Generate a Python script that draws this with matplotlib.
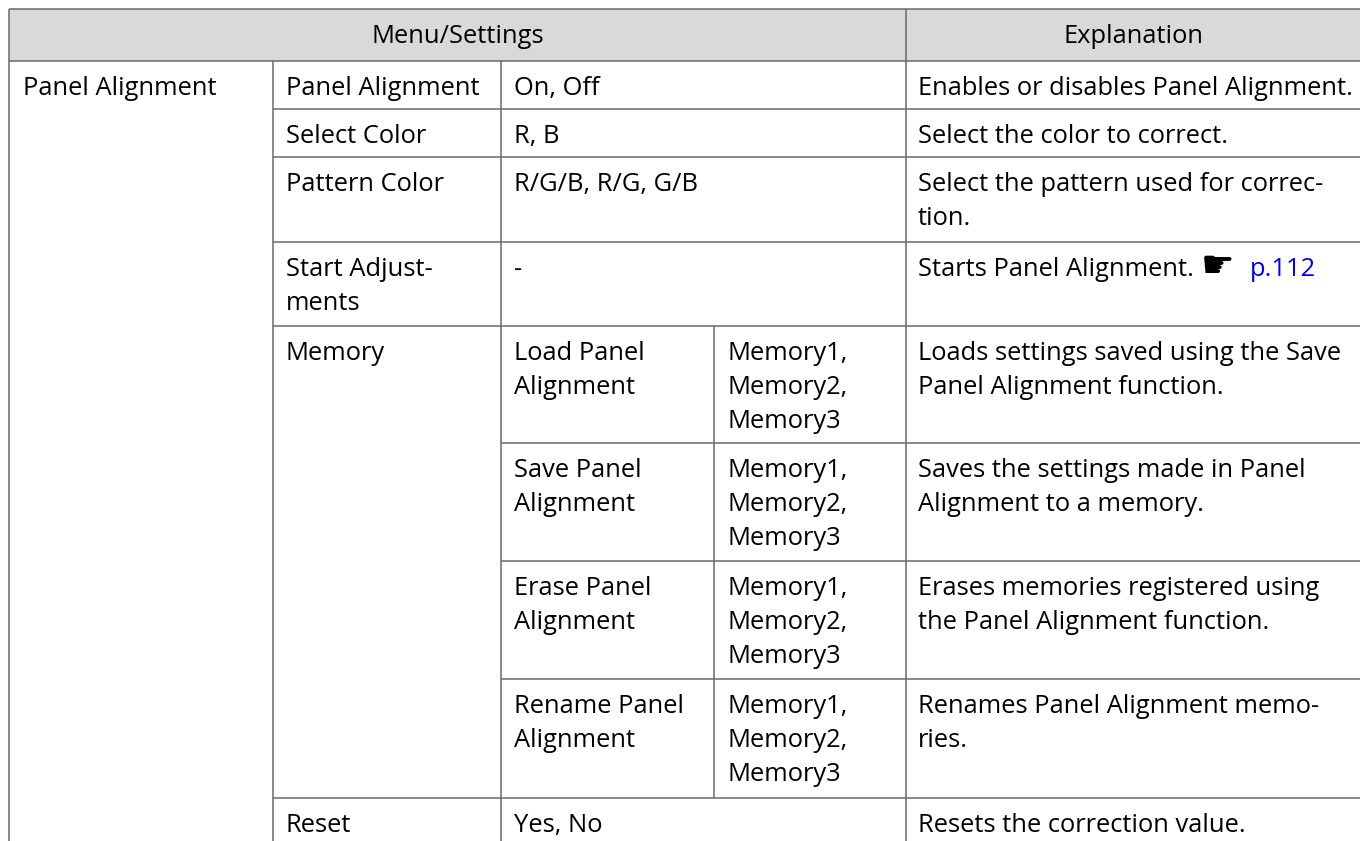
import matplotlib
matplotlib.use("Agg")
import matplotlib.pyplot as plt

# ---------------- data ----------------
header_left = "Menu/Settings"
header_right = "Explanation"
group_name = "Panel Alignment"
items = ["Panel Alignment", "Select Color", "Pattern Color", "Start Adjust-\nments", "Memory", "Reset"]
item_values = ["On, Off", "R, B", "R/G/B, R/G, G/B", "-", None, "Yes, No"]
item_expl = [
    "Enables or disables Panel Alignment.",
    "Select the color to correct.",
    "Select the pattern used for correc-\ntion.",
    "Starts Panel Alignment.",
    None,
    "Resets the correction value.",
]
memory_items = ["Load Panel\nAlignment", "Save Panel\nAlignment", "Erase Panel\nAlignment", "Rename Panel\nAlignment"]
memory_values = ["Memory1,\nMemory2,\nMemory3"] * 4
memory_expl = [
    "Loads settings saved using the Save\nPanel Alignment function.",
    "Saves the settings made in Panel\nAlignment to a memory.",
    "Erases memories registered using\nthe Panel Alignment function.",
    "Renames Panel Alignment memo-\nries.",
]
link_icon = "\u261B"
link_text = "p.112"

# ---------------- layout ----------------
W, H = 1360, 841
X0, X1, X2, X3, X4, XR = 9, 273, 501, 714, 906, 1360
Y_TOP, Y_HEAD = 9, 61
item_heights = [48, 48, 85, 84, 472, 48]
mem_heights = [117, 118, 118, 119]
PAD = 13
BASE = 34
LSP = 34
FONT = "Open Sans"
FS = 18.4
LC = "#6a6a6a"
LW = 1.1

fig = plt.figure(figsize=(W / 100, H / 100), dpi=100)
ax = fig.add_axes([0, 0, 1, 1])
ax.set_xlim(0, W)
ax.set_ylim(H, 0)
ax.axis("off")

def hline(y, xa, xb):
    ax.plot([xa, xb], [y, y], color=LC, lw=LW, solid_capstyle="butt")

def vline(x, ya, yb):
    ax.plot([x, x], [ya, yb], color=LC, lw=LW, solid_capstyle="butt")

def cell_text(x, top, s, color="black"):
    out = None
    for i, line in enumerate(s.split("\n")):
        out = ax.text(x, top + BASE + i * LSP, line, fontsize=FS, family=FONT,
                      color=color, va="baseline", ha="left")
    return out

# header
ax.add_patch(plt.Rectangle((X0, Y_TOP), XR - X0, Y_HEAD - Y_TOP, facecolor="#d9d9d9", edgecolor="none"))
hline(Y_TOP, X0, XR)
hline(Y_HEAD, X0, XR)
ax.text((X0 + X4) / 2, (Y_TOP + Y_HEAD) / 2 + 1, header_left, fontsize=FS, family=FONT, ha="center", va="center")
ax.text((X4 + XR) / 2, (Y_TOP + Y_HEAD) / 2 + 1, header_right, fontsize=FS, family=FONT, ha="center", va="center")

# vertical borders
vline(X0, Y_TOP, H + 5)
vline(X1, Y_HEAD, H + 5)
vline(X2, Y_HEAD, H + 5)
vline(X4, Y_TOP, H + 5)

cell_text(X0 + PAD + 1, Y_HEAD, group_name)

y = Y_HEAD
for i, name in enumerate(items):
    top = y
    h = item_heights[i]
    cell_text(X1 + PAD, top, name)
    if item_values[i] is not None:
        cell_text(X2 + PAD, top, item_values[i])
        t = cell_text(X4 + PAD - 1, top, item_expl[i])
        if i == 3:
            fig.canvas.draw()
            bb = t.get_window_extent()
            xe = bb.x1
            ax.text(xe + 7, top + BASE + 1, link_icon, fontsize=27, family="DejaVu Sans", va="baseline", ha="left")
            ax.text(xe + 56, top + BASE, link_text, fontsize=FS, family=FONT, color="#0000ff", va="baseline", ha="left")
    else:
        my = top
        vline(X3, top, top + h)
        for j, mname in enumerate(memory_items):
            cell_text(X2 + PAD, my, mname)
            cell_text(X3 + PAD, my, memory_values[j])
            cell_text(X4 + PAD - 1, my, memory_expl[j])
            my += mem_heights[j]
            if j < len(memory_items) - 1:
                hline(my, X2, XR)
    y += h
    if y < H:
        hline(y, X1, XR)

fig.savefig("out.png", dpi=100)
